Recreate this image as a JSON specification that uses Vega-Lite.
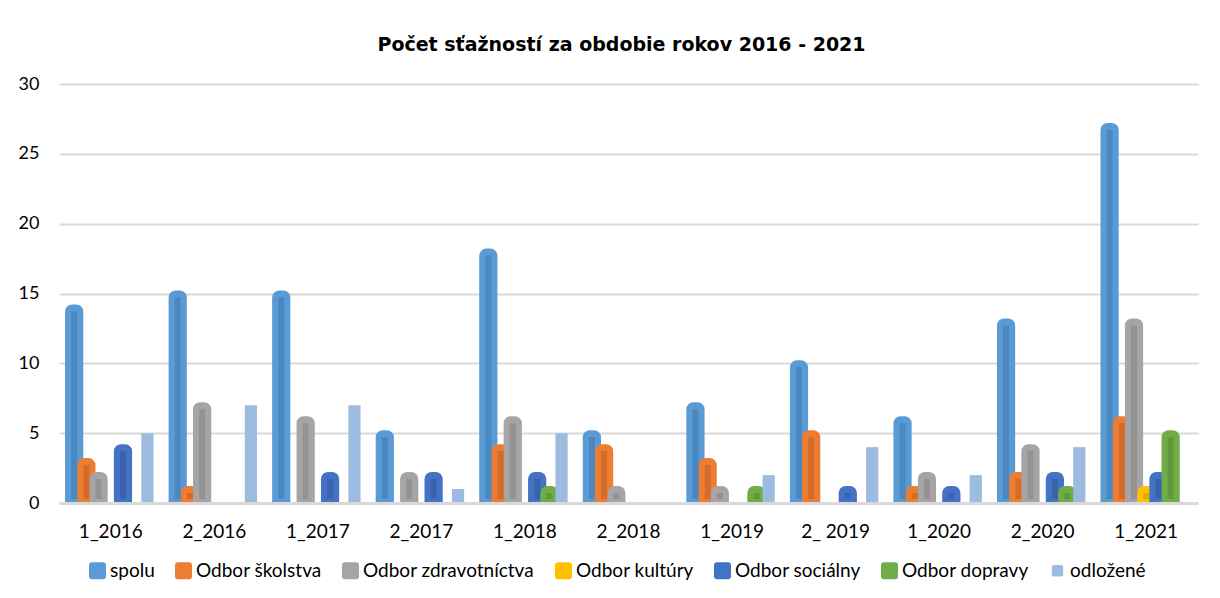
{
  "$schema": "https://vega.github.io/schema/vega-lite/v6.json",
  "width": 1139,
  "height": 419,
  "autosize": "none",
  "padding": {"left": 59, "top": 84, "right": 22, "bottom": 95},
  "background": "white",
  "config": {"view": {"stroke": null}, "font": "Lato"},
  "title": {"text": "Počet sťažností za obdobie rokov 2016 - 2021", "font": "DejaVu Sans", "fontSize": 19, "fontWeight": "bold", "color": "#000000", "offset": 20, "dx": -7, "anchor": "middle"},
  "data": {"values": [
    {"obdobie": "1_2016", "odbor": "spolu", "pocet": 14},
    {"obdobie": "2_2016", "odbor": "spolu", "pocet": 15},
    {"obdobie": "1_2017", "odbor": "spolu", "pocet": 15},
    {"obdobie": "2_2017", "odbor": "spolu", "pocet": 5},
    {"obdobie": "1_2018", "odbor": "spolu", "pocet": 18},
    {"obdobie": "2_2018", "odbor": "spolu", "pocet": 5},
    {"obdobie": "1_2019", "odbor": "spolu", "pocet": 7},
    {"obdobie": "2_ 2019", "odbor": "spolu", "pocet": 10},
    {"obdobie": "1_2020", "odbor": "spolu", "pocet": 6},
    {"obdobie": "2_2020", "odbor": "spolu", "pocet": 13},
    {"obdobie": "1_2021", "odbor": "spolu", "pocet": 27},
    {"obdobie": "1_2016", "odbor": "Odbor školstva", "pocet": 3},
    {"obdobie": "2_2016", "odbor": "Odbor školstva", "pocet": 1},
    {"obdobie": "1_2017", "odbor": "Odbor školstva", "pocet": 0},
    {"obdobie": "2_2017", "odbor": "Odbor školstva", "pocet": 0},
    {"obdobie": "1_2018", "odbor": "Odbor školstva", "pocet": 4},
    {"obdobie": "2_2018", "odbor": "Odbor školstva", "pocet": 4},
    {"obdobie": "1_2019", "odbor": "Odbor školstva", "pocet": 3},
    {"obdobie": "2_ 2019", "odbor": "Odbor školstva", "pocet": 5},
    {"obdobie": "1_2020", "odbor": "Odbor školstva", "pocet": 1},
    {"obdobie": "2_2020", "odbor": "Odbor školstva", "pocet": 2},
    {"obdobie": "1_2021", "odbor": "Odbor školstva", "pocet": 6},
    {"obdobie": "1_2016", "odbor": "Odbor zdravotníctva", "pocet": 2},
    {"obdobie": "2_2016", "odbor": "Odbor zdravotníctva", "pocet": 7},
    {"obdobie": "1_2017", "odbor": "Odbor zdravotníctva", "pocet": 6},
    {"obdobie": "2_2017", "odbor": "Odbor zdravotníctva", "pocet": 2},
    {"obdobie": "1_2018", "odbor": "Odbor zdravotníctva", "pocet": 6},
    {"obdobie": "2_2018", "odbor": "Odbor zdravotníctva", "pocet": 1},
    {"obdobie": "1_2019", "odbor": "Odbor zdravotníctva", "pocet": 1},
    {"obdobie": "2_ 2019", "odbor": "Odbor zdravotníctva", "pocet": 0},
    {"obdobie": "1_2020", "odbor": "Odbor zdravotníctva", "pocet": 2},
    {"obdobie": "2_2020", "odbor": "Odbor zdravotníctva", "pocet": 4},
    {"obdobie": "1_2021", "odbor": "Odbor zdravotníctva", "pocet": 13},
    {"obdobie": "1_2016", "odbor": "Odbor kultúry", "pocet": 0},
    {"obdobie": "2_2016", "odbor": "Odbor kultúry", "pocet": 0},
    {"obdobie": "1_2017", "odbor": "Odbor kultúry", "pocet": 0},
    {"obdobie": "2_2017", "odbor": "Odbor kultúry", "pocet": 0},
    {"obdobie": "1_2018", "odbor": "Odbor kultúry", "pocet": 0},
    {"obdobie": "2_2018", "odbor": "Odbor kultúry", "pocet": 0},
    {"obdobie": "1_2019", "odbor": "Odbor kultúry", "pocet": 0},
    {"obdobie": "2_ 2019", "odbor": "Odbor kultúry", "pocet": 0},
    {"obdobie": "1_2020", "odbor": "Odbor kultúry", "pocet": 0},
    {"obdobie": "2_2020", "odbor": "Odbor kultúry", "pocet": 0},
    {"obdobie": "1_2021", "odbor": "Odbor kultúry", "pocet": 1},
    {"obdobie": "1_2016", "odbor": "Odbor sociálny", "pocet": 4},
    {"obdobie": "2_2016", "odbor": "Odbor sociálny", "pocet": 0},
    {"obdobie": "1_2017", "odbor": "Odbor sociálny", "pocet": 2},
    {"obdobie": "2_2017", "odbor": "Odbor sociálny", "pocet": 2},
    {"obdobie": "1_2018", "odbor": "Odbor sociálny", "pocet": 2},
    {"obdobie": "2_2018", "odbor": "Odbor sociálny", "pocet": 0},
    {"obdobie": "1_2019", "odbor": "Odbor sociálny", "pocet": 0},
    {"obdobie": "2_ 2019", "odbor": "Odbor sociálny", "pocet": 1},
    {"obdobie": "1_2020", "odbor": "Odbor sociálny", "pocet": 1},
    {"obdobie": "2_2020", "odbor": "Odbor sociálny", "pocet": 2},
    {"obdobie": "1_2021", "odbor": "Odbor sociálny", "pocet": 2},
    {"obdobie": "1_2016", "odbor": "Odbor dopravy", "pocet": 0},
    {"obdobie": "2_2016", "odbor": "Odbor dopravy", "pocet": 0},
    {"obdobie": "1_2017", "odbor": "Odbor dopravy", "pocet": 0},
    {"obdobie": "2_2017", "odbor": "Odbor dopravy", "pocet": 0},
    {"obdobie": "1_2018", "odbor": "Odbor dopravy", "pocet": 1},
    {"obdobie": "2_2018", "odbor": "Odbor dopravy", "pocet": 0},
    {"obdobie": "1_2019", "odbor": "Odbor dopravy", "pocet": 1},
    {"obdobie": "2_ 2019", "odbor": "Odbor dopravy", "pocet": 0},
    {"obdobie": "1_2020", "odbor": "Odbor dopravy", "pocet": 0},
    {"obdobie": "2_2020", "odbor": "Odbor dopravy", "pocet": 1},
    {"obdobie": "1_2021", "odbor": "Odbor dopravy", "pocet": 5},
    {"obdobie": "1_2016", "odbor": "odložené", "pocet": 5},
    {"obdobie": "2_2016", "odbor": "odložené", "pocet": 7},
    {"obdobie": "1_2017", "odbor": "odložené", "pocet": 7},
    {"obdobie": "2_2017", "odbor": "odložené", "pocet": 1},
    {"obdobie": "1_2018", "odbor": "odložené", "pocet": 5},
    {"obdobie": "2_2018", "odbor": "odložené", "pocet": 0},
    {"obdobie": "1_2019", "odbor": "odložené", "pocet": 2},
    {"obdobie": "2_ 2019", "odbor": "odložené", "pocet": 4},
    {"obdobie": "1_2020", "odbor": "odložené", "pocet": 2},
    {"obdobie": "2_2020", "odbor": "odložené", "pocet": 4},
    {"obdobie": "1_2021", "odbor": "odložené", "pocet": 0}
  ]},
  "transform": [{"filter": "datum.pocet > 0"}],
  "encoding": {
    "x": {"field": "obdobie", "type": "nominal", "sort": ["1_2016", "2_2016", "1_2017", "2_2017", "1_2018", "2_2018", "1_2019", "2_ 2019", "1_2020", "2_2020", "1_2021"],
      "scale": {"paddingInner": 0.175, "paddingOuter": 0.0875},
      "axis": {"title": null, "labelAngle": 0, "labelFont": "Lato", "labelFontSize": 19, "labelColor": "#000000", "labelPadding": 19, "ticks": false, "tickSize": 0, "domainColor": "#D9D9D9", "domainWidth": 3, "zindex": 1}},
    "xOffset": {"field": "odbor", "type": "nominal",
      "scale": {"domain": ["spolu", "Odbor školstva", "Odbor zdravotníctva", "Odbor kultúry", "Odbor sociálny", "Odbor dopravy", "odložené"], "paddingInner": 0, "paddingOuter": 0}},
    "y": {"field": "pocet", "type": "quantitative", "scale": {"domain": [0, 30]},
      "axis": {"title": null, "values": [0, 5, 10, 15, 20, 25, 30], "labelFont": "Lato", "labelFontSize": 18, "labelColor": "#000000", "labelPadding": 20, "ticks": false, "tickSize": 0, "domain": false, "gridColor": "#D9D9D9", "gridWidth": 2}},
    "y2": {"datum": 0}
  },
  "layer": [
    {
      "transform": [{"filter": "datum.odbor !== 'odložené'"}],
      "mark": {"type": "bar", "cornerRadiusTopLeft": 4, "cornerRadiusTopRight": 4, "y2Offset": -3, "strokeWidth": 6},
      "encoding": {
        "color": {"field": "odbor", "type": "nominal",
          "scale": {"domain": ["spolu", "Odbor školstva", "Odbor zdravotníctva", "Odbor kultúry", "Odbor sociálny", "Odbor dopravy", "odložené"],
                    "range": ["#5B9BD5", "#ED7D31", "#A5A5A5", "#FFC000", "#4472C4", "#70AD47", "#9DBBE0"]},
          "legend": {"title": null, "orient": "none", "direction": "horizontal", "columns": 7, "legendX": 29, "legendY": 477,
            "symbolType": "M -0.65,-1 L 0.65,-1 Q 1,-1 1,-0.65 L 1,0.65 Q 1,1 0.65,1 L -0.65,1 Q -1,1 -1,0.65 L -1,-0.65 Q -1,-1 -0.65,-1 Z",
            "symbolSize": 289, "symbolStrokeWidth": 0, "labelFont": "Lato", "labelFontSize": 19, "labelColor": "#000000", "labelOffset": 3, "labelLimit": 0, "columnPadding": 19,
            "encode": {"symbols": {"update": {"size": {"signal": "datum.value === 'odložené' ? 130 : 289"}}}}}},
        "stroke": {"field": "odbor", "type": "nominal",
          "scale": {"domain": ["spolu", "Odbor školstva", "Odbor zdravotníctva", "Odbor kultúry", "Odbor sociálny", "Odbor dopravy", "odložené"],
                    "range": ["#5B9BD5", "#ED7D31", "#A5A5A5", "#FFC000", "#4472C4", "#70AD47", "#9DBBE0"]}, "legend": null}
      }
    },
    {
      "transform": [{"filter": "datum.odbor === 'odložené'"}],
      "mark": {"type": "bar"},
      "encoding": {
        "color": {"field": "odbor", "type": "nominal"}
      }
    },
    {
      "transform": [{"filter": "datum.odbor !== 'odložené'"}],
      "mark": {"type": "bar", "width": 6, "yOffset": 4, "y2Offset": -4},
      "encoding": {
        "fill": {"field": "odbor", "type": "nominal",
          "scale": {"domain": ["spolu", "Odbor školstva", "Odbor zdravotníctva", "Odbor kultúry", "Odbor sociálny", "Odbor dopravy", "odložené"],
                    "range": ["#4A88BF", "#D46B2A", "#939393", "#E3AA00", "#3A63AC", "#61983C", "#9DBBE0"]}, "legend": null}
      }
    }
  ],
  "resolve": {"scale": {"fill": "independent", "stroke": "independent"}}
}
